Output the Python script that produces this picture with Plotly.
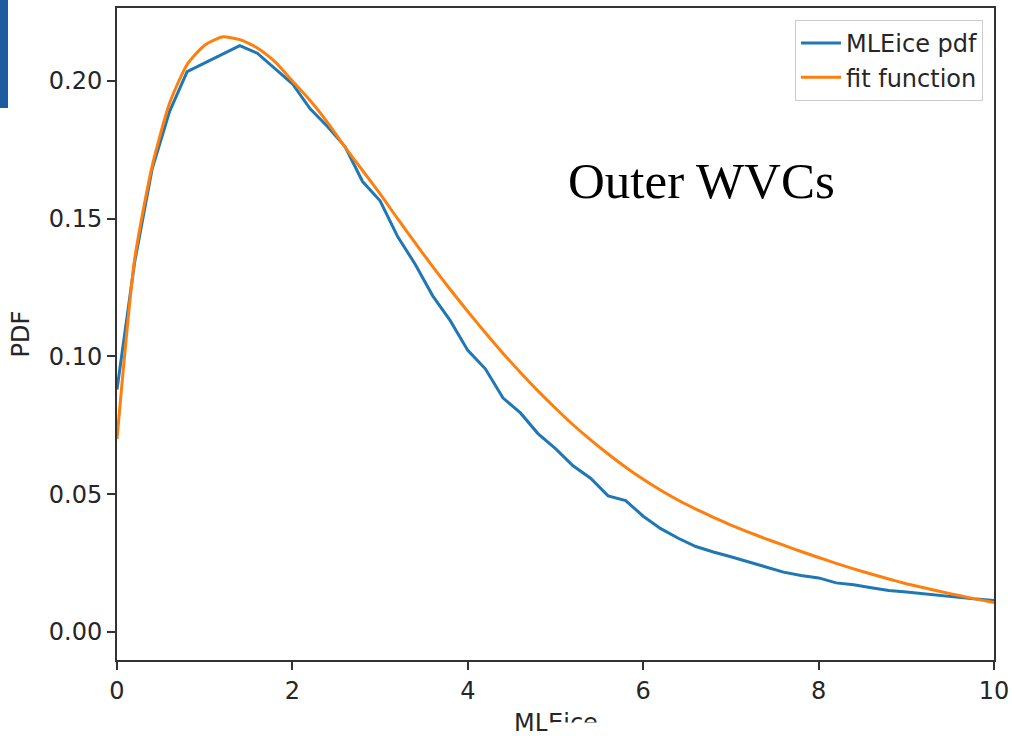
import plotly.graph_objects as go

x_vals = [round(i * 0.2, 1) for i in range(51)]

mleice_pdf = [0.088, 0.134, 0.168, 0.189, 0.2034, 0.2065, 0.2098, 0.2128, 0.2101, 0.2046,
              0.1990, 0.1900, 0.1835, 0.1762, 0.1635, 0.1565, 0.1435, 0.1335, 0.1220, 0.1130,
              0.1022, 0.0955, 0.0850, 0.0795, 0.0720, 0.0665, 0.0603, 0.0558, 0.0494, 0.0477,
              0.0420, 0.0375, 0.0340, 0.0310, 0.0290, 0.0273, 0.0255, 0.0237, 0.0217, 0.0205,
              0.0196, 0.0178, 0.0171, 0.0160, 0.0150, 0.0145, 0.0138, 0.0131, 0.0125, 0.0119,
              0.0114]

fit_function = [0.070, 0.135, 0.169, 0.192, 0.206, 0.213, 0.216, 0.215, 0.212, 0.207,
                0.200, 0.193, 0.185, 0.176, 0.1675, 0.1590, 0.1500, 0.1412, 0.1326, 0.1243,
                0.1163, 0.1086, 0.1012, 0.0942, 0.0875, 0.0812, 0.0752, 0.0697, 0.0646, 0.0598,
                0.0554, 0.0514, 0.0478, 0.0446, 0.0416, 0.0388, 0.0362, 0.0338, 0.0315, 0.0292,
                0.0270, 0.0249, 0.0229, 0.0210, 0.0192, 0.0175, 0.0160, 0.0146, 0.0132, 0.0119,
                0.0107]

x_ticks = [0, 2, 4, 6, 8, 10]
y_ticks = [0.00, 0.05, 0.10, 0.15, 0.20]
y_tick_labels = ["0.00", "0.05", "0.10", "0.15", "0.20"]

FONT = "DejaVu Sans"
TXT = "#262626"

fig = go.Figure()
fig.add_trace(go.Scatter(x=x_vals, y=mleice_pdf, mode="lines", name="MLEice pdf",
                         line=dict(color="#1f77b4", width=3)))
fig.add_trace(go.Scatter(x=x_vals, y=fit_function, mode="lines", name="fit function",
                         line=dict(color="#ff7f0e", width=3, shape="spline", smoothing=0.6)))

axis_common = dict(showline=True, linecolor="#333333", linewidth=2, mirror=True,
                   ticks="outside", ticklen=8, tickwidth=2, tickcolor="#333333",
                   showgrid=False, zeroline=False, automargin=False,
                   tickfont=dict(family=FONT, size=24, color=TXT))

fig.update_xaxes(range=[0, 10], tickvals=x_ticks, ticktext=[str(t) for t in x_ticks],
                 **axis_common)
fig.update_yaxes(range=[-0.0102, 0.2265], tickvals=y_ticks, ticktext=y_tick_labels,
                 title=dict(text="PDF", font=dict(family=FONT, size=24, color=TXT),
                            standoff=12),
                 **axis_common)

# x-axis title (partly cut off at the bottom edge, as in the reference)
fig.add_annotation(text="MLEice", x=0.5, y=-0.072, xref="paper", yref="paper",
                   xanchor="center", yanchor="top", showarrow=False,
                   font=dict(family=FONT, size=24, color=TXT))
# white cover over the lower part of "Eice"
fig.add_annotation(text=" ", x=0.4903, y=-0.0951, xref="paper", yref="paper",
                   xanchor="left", yanchor="top", showarrow=False,
                   width=80, height=20, bgcolor="white", borderpad=0,
                   font=dict(family=FONT, size=10))

fig.add_annotation(text="Outer WVCs", x=0.667, y=0.734, xref="paper", yref="paper",
                   xanchor="center", yanchor="middle", showarrow=False,
                   font=dict(family="Liberation Serif", size=51, color="black"))

fig.add_shape(type="rect", xref="paper", yref="paper", x0=-0.1334, x1=-0.1243,
              y0=0.8466, y1=1.02, fillcolor="#1d5aa0", line=dict(width=0), layer="above")

fig.update_layout(
    width=1012, height=736,
    margin=dict(l=117, r=18, t=8, b=76),
    plot_bgcolor="white", paper_bgcolor="white",
    legend=dict(x=0.9875, y=0.9816, xanchor="right", yanchor="top",
                bgcolor="rgba(255,255,255,0.9)", bordercolor="#cccccc", borderwidth=1,
                font=dict(family=FONT, size=24, color=TXT), itemwidth=40),
    showlegend=True,
)

fig.write_html("out.html")
